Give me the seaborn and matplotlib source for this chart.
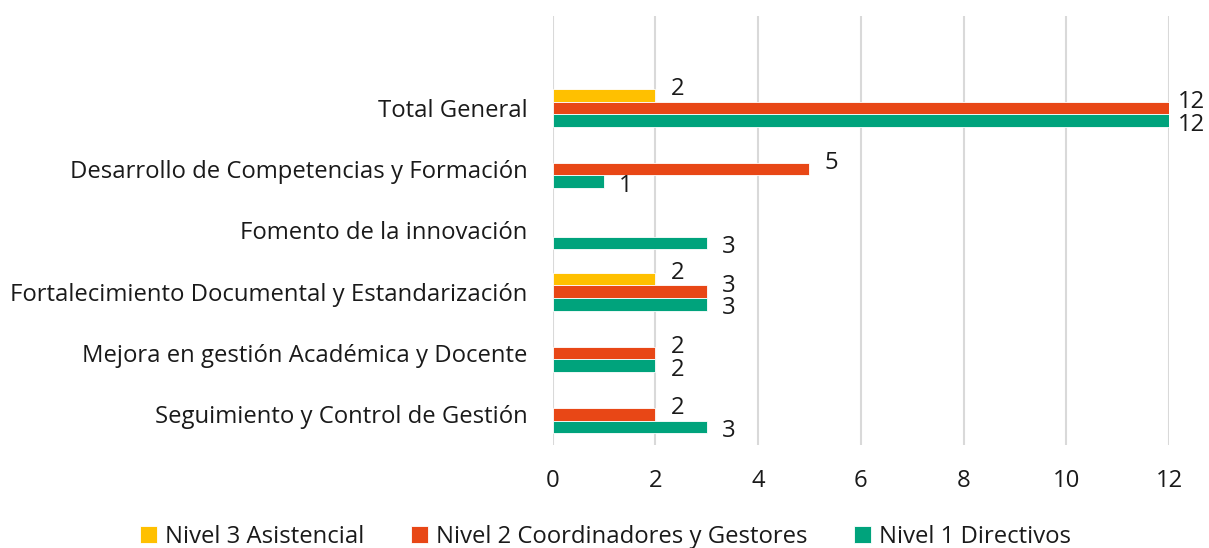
import matplotlib
matplotlib.use("Agg")
import matplotlib.pyplot as plt
import pandas as pd
import seaborn as sns
import numpy as np

# Data (None = no bar)
categories = ["Total General",
              "Desarrollo de Competencias y Formación",
              "Fomento de la innovación",
              "Fortalecimiento Documental y Estandarización",
              "Mejora en gestión Académica y Docente",
              "Seguimiento y Control de Gestión"]
series = ["Nivel 3 Asistencial", "Nivel 2 Coordinadores y Gestores", "Nivel 1 Directivos"]
nivel_3 = [2, None, None, 2, None, None]
nivel_2 = [12, 5, None, 3, 2, 2]
nivel_1 = [12, 1, 3, 3, 2, 3]
colors = ["#FFC000", "#E84716", "#00A37C"]
x_ticks = [0, 2, 4, 6, 8, 10, 12]

# Long table for seaborn
rows = []
for name, values in zip(series, [nivel_3, nivel_2, nivel_1]):
    for cat, v in zip(categories, values):
        rows.append({"Categoria": cat, "Nivel": name, "Valor": np.nan if v is None else v})
df = pd.DataFrame(rows)

sns.set_theme(style="white")
plt.rcParams["font.family"] = ["Open Sans", "DejaVu Sans"]
plt.rcParams["text.color"] = "#1a1a1a"

fs = 17.2
fig = plt.figure(figsize=(12.09, 5.48), dpi=100)
ax = fig.add_axes([0.457, 0.188, 0.51, 0.783])

sns.barplot(data=df, y="Categoria", x="Valor", hue="Nivel", order=categories,
            hue_order=series, palette=colors, width=0.62, orient="h",
            edgecolor="white", linewidth=0.6, saturation=1, ax=ax, legend=True)

# value labels, stacked like the original (slightly above / below bar centre)
y_shift = [-6, -6, 4]
for container, dy in zip(ax.containers, y_shift):
    for bar in container:
        w = bar.get_width()
        if np.isnan(w) or w == 0:
            continue
        ax.annotate(f"{int(w)}", (w, bar.get_y() + bar.get_height() / 2),
                    xytext=(22, -dy), textcoords="offset pixels",
                    ha="center", va="center", fontsize=fs, color="#1a1a1a")

ax.set_xlim(0, 12)
ax.set_ylim(len(categories) - 0.5, -1.5)
ax.set_xticks(x_ticks)
ax.xaxis.grid(True, color="#D9D9D9", linewidth=1.5)
ax.set_axisbelow(True)
for s in ax.spines.values():
    s.set_visible(False)
ax.tick_params(axis="both", length=0, labelsize=fs, colors="#1a1a1a")
ax.tick_params(axis="x", pad=17)
ax.tick_params(axis="y", pad=18)
ax.set_xlabel("")
ax.set_ylabel("")

handles, labels = ax.get_legend_handles_labels()
ax.legend_.remove()
fig.legend(handles, labels, loc="center", bbox_to_anchor=(0.501, 0.020), ncol=3,
           frameon=False, fontsize=fs, handlelength=0.7, handleheight=0.7,
           handletextpad=0.35, columnspacing=1.95)

fig.savefig("out.png", dpi=100)
